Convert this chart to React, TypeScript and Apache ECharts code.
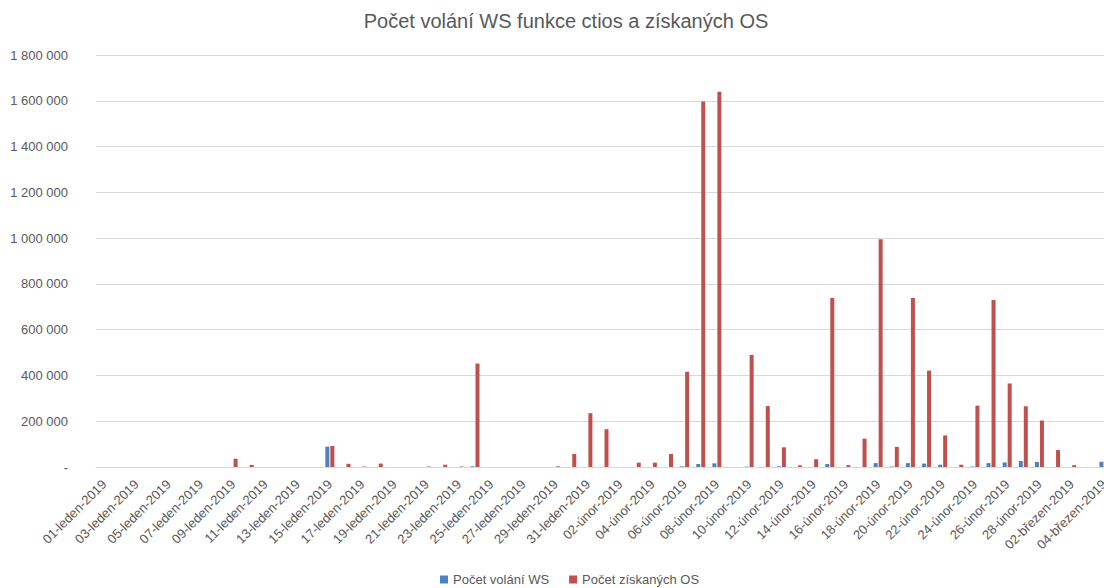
import React, { useEffect, useRef } from "react";
import * as echarts from "echarts";

const months: [string, number][] = [
  ["leden", 31],
  ["únor", 28],
  ["březen", 4],
];
const categories: string[] = [];
for (const [m, n] of months) {
  for (let d = 1; d <= n; d++) categories.push(`${String(d).padStart(2, "0")}-${m}-2019`);
}

const volaniWS: number[] = [
  0, 0, 0, 0, 0, 0, 0, 0, 0, 0,
  0, 0, 0, 0, 89000, 0, 0, 0, 0, 0,
  0, 0, 0, 3000, 0, 0, 0, 0, 0, 0,
  0, 0, 0, 0, 0, 0, 3000, 13000, 16000, 0,
  2000, 0, 3000, 0, 0, 13000, 0, 0, 17000, 2000,
  17000, 15000, 10000, 0, 2000, 17000, 20000, 26000, 22000, 0,
  0, 0, 23000,
];

const ziskanychOS: number[] = [
  0, 0, 0, 0, 0, 0, 0, 0, 36000, 9000,
  0, 0, 0, 0, 92000, 14000, 2000, 15000, 0, 0,
  2000, 10000, 2000, 452000, 0, 0, 0, 0, 3000, 57000,
  235000, 165000, 0, 19000, 19000, 57000, 416000, 1597000, 1639000, 0,
  490000, 266000, 86000, 7000, 34000, 738000, 8000, 124000, 995000, 88000,
  738000, 421000, 138000, 10000, 268000, 730000, 365000, 265000, 203000, 74000,
  8000, 0, 0,
];

const FONT = "'Liberation Sans', Arial, sans-serif";
const TXT = "#595959";
const GRID = "#d9d9d9";

const fmt = (v: number) => (v === 0 ? "-" : String(v).replace(/\B(?=(\d{3})+(?!\d))/g, " "));

export default function App() {
  const ref = useRef<HTMLDivElement>(null);
  useEffect(() => {
    if (!ref.current) return;
    const chart = echarts.init(ref.current, undefined, { renderer: "svg" });
    chart.setOption({
      animation: false,
      backgroundColor: "#ffffff",
      textStyle: { fontFamily: FONT },
      title: {
        text: "Počet volání WS funkce ctios a získaných OS",
        left: 566,
        textAlign: "center",
        top: 11,
        padding: 0,
        textStyle: { fontSize: 20, fontWeight: "normal", color: TXT, fontFamily: FONT },
      },
      legend: {
        left: 440,
        top: 573,
        padding: 0,
        icon: "rect",
        itemWidth: 8,
        itemHeight: 8,
        itemGap: 20,
        textStyle: { fontSize: 13, color: TXT, fontFamily: FONT },
        data: ["Počet volání WS", "Počet získaných OS"],
      },
      grid: { left: 96, right: 0, top: 55, bottom: 121, containLabel: false },
      xAxis: {
        type: "category",
        data: categories,
        boundaryGap: true,
        axisLine: { lineStyle: { color: GRID } },
        axisTick: { show: false },
        axisLabel: {
          interval: 1,
          rotate: 45,
          fontSize: 13,
          color: TXT,
          margin: 15,
          fontFamily: FONT,
        },
      },
      yAxis: {
        type: "value",
        min: 0,
        max: 1800000,
        interval: 200000,
        axisLine: { show: false },
        axisTick: { show: false },
        splitLine: { lineStyle: { color: GRID, width: 1 } },
        axisLabel: { formatter: fmt, fontSize: 13, color: TXT, margin: 28, fontFamily: FONT },
      },
      series: [
        {
          name: "Počet volání WS",
          type: "bar",
          data: volaniWS,
          barWidth: 4,
          barGap: "25%",
          itemStyle: { color: "#4F81BD" },
        },
        {
          name: "Počet získaných OS",
          type: "bar",
          data: ziskanychOS,
          barWidth: 4,
          barGap: "25%",
          itemStyle: { color: "#C0504D" },
        },
      ],
    });
    return () => chart.dispose();
  }, []);
  return (
    <div
      style={{
        position: "fixed",
        left: 0,
        top: 0,
        width: 1104,
        height: 588,
        overflow: "hidden",
        background: "#fff",
      }}
    >
      <div ref={ref} style={{ width: 1112, height: 588 }} />
    </div>
  );
}
